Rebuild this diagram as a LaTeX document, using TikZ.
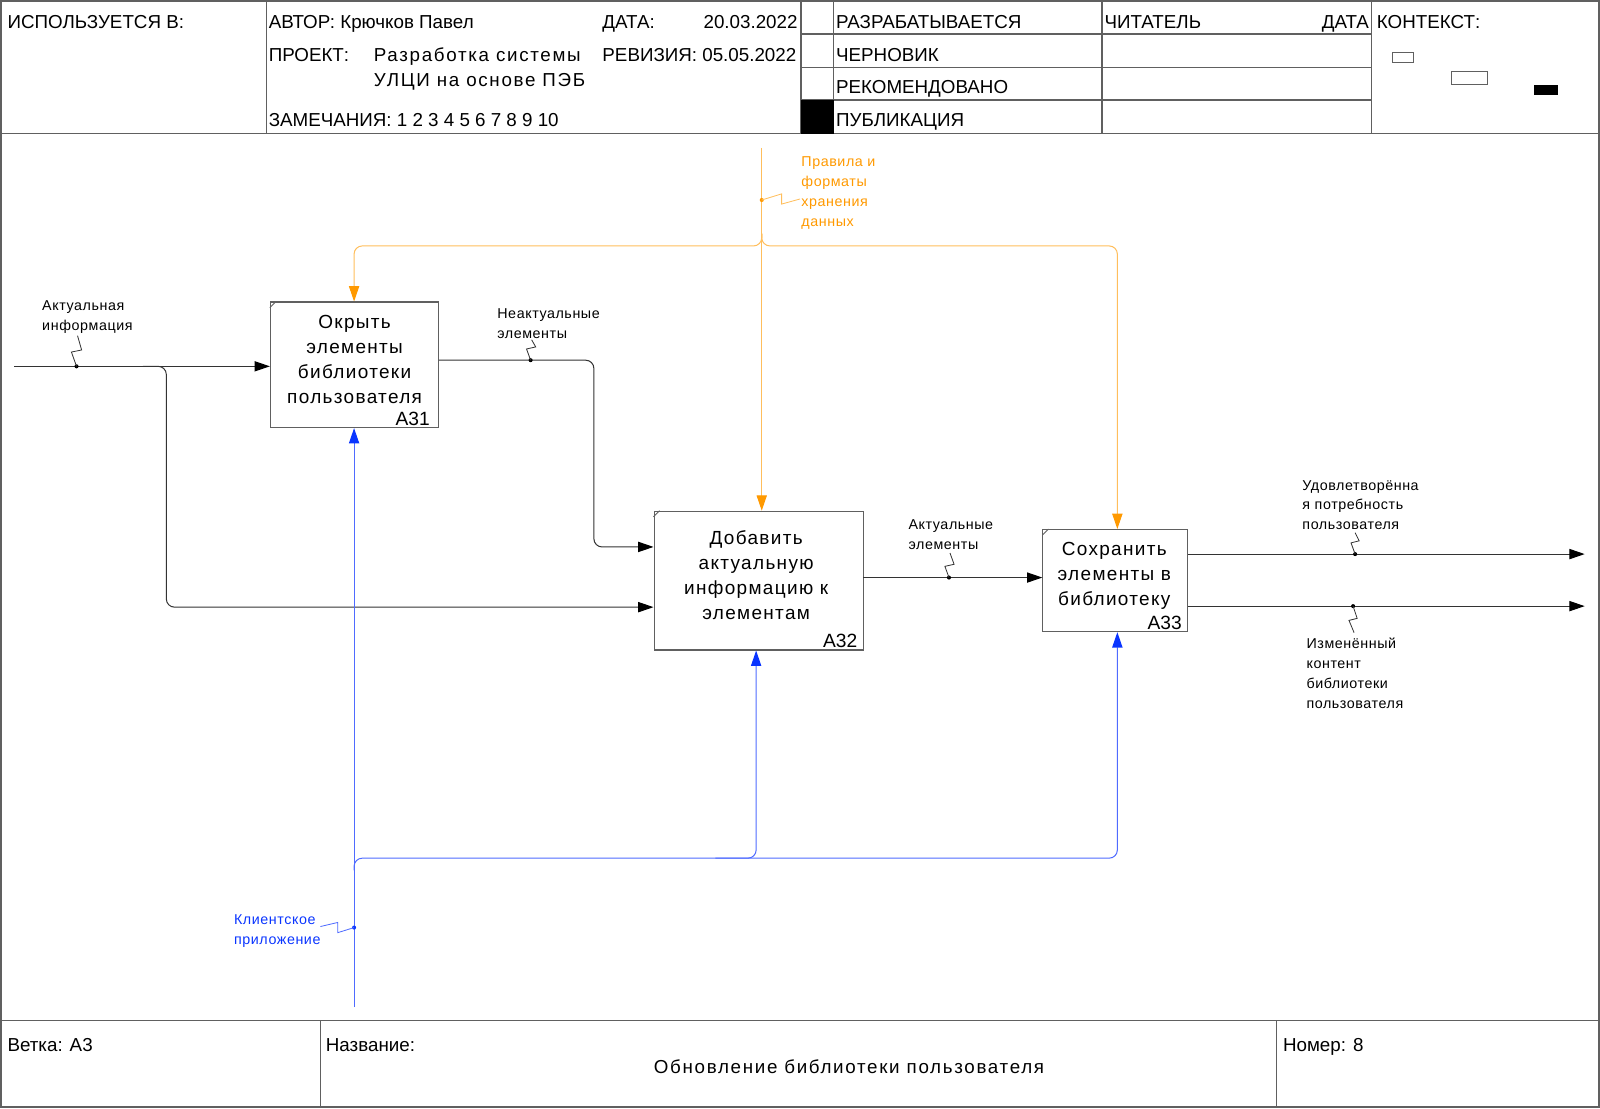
\documentclass[tikz,border=0pt]{standalone}
\usepackage{fontspec}
\setmainfont{Liberation Sans}
\newfontfamily\lblfont[LetterSpace=4]{Liberation Sans}
\newfontfamily\bxfont[LetterSpace=7]{Liberation Sans}
\newfontfamily\widefont[LetterSpace=9]{Liberation Sans}
\usetikzlibrary{arrows.meta}
\definecolor{frm}{HTML}{606060}
\definecolor{oraL}{HTML}{FFBE5C}
\definecolor{oraD}{HTML}{FF9900}
\definecolor{bluL}{HTML}{4F6BFF}
\definecolor{bluD}{HTML}{0A35FF}
\definecolor{conc}{HTML}{333333}
\tikzset{
  frame/.style={draw=frm, line width=0.7pt},
  hdr/.style={inner sep=0pt, anchor=base west, font=\fontsize{9.2}{11}\selectfont},
  box/.style={draw=frm, line width=0.55pt, fill=white, inner sep=0pt},
  boxtext/.style={inner sep=0pt, align=center, font=\bxfont\fontsize{9.3}{12.2}\selectfont},
  boxnum/.style={inner sep=0pt, anchor=south east, font=\fontsize{9.4}{11}\selectfont},
  lbl/.style={inner sep=0pt, anchor=west, align=left, font=\lblfont\fontsize{7}{9.75}\selectfont},
  conn/.style={draw=conc, line width=0.5pt, rounded corners=4pt},
  tipk/.style={-{Triangle[length=7.5pt,width=5pt,color=black]}},
  ctl/.style={draw=oraL, line width=0.5pt, rounded corners=4pt},
  tipo/.style={-{Triangle[length=7.5pt,width=5pt,color=oraD]}},
  mec/.style={draw=bluL, line width=0.5pt, rounded corners=4pt},
  tipm/.style={-{Triangle[length=7.5pt,width=5pt,color=bluD]}},
  squig/.style={line width=0.4pt},
}
\begin{document}
\begin{tikzpicture}[x=0.5pt,y=-0.5pt]
\useasboundingbox (0,0) rectangle (1568,1086);
% outer frame and header/footer grid
\draw[frame] (1,1) rectangle (1567,1085);
\draw[frame] (1,131) -- (1567,131);
\draw[frame] (1,1000) -- (1567,1000);
\draw[frame] (261,1) -- (261,131);
\draw[frame] (785,1) -- (785,131);
\draw[frame] (817,1) -- (817,131);
\draw[frame] (1080,1) -- (1080,131);
\draw[frame] (1344,1) -- (1344,131);
\draw[frame] (785,33.5) -- (1344,33.5);
\draw[frame] (785,66) -- (1344,66);
\draw[frame] (785,98) -- (1344,98);
\fill[black] (785,98) rectangle (817,131);
\draw[frame] (314,1000) -- (314,1085);
\draw[frame] (1251,1000) -- (1251,1085);
% context thumbnails
\draw[draw=frm, line width=0.4pt] (1365,51) rectangle (1385,61);
\draw[draw=frm, line width=0.4pt] (1422,70) rectangle (1458,83);
\fill[black] (1503,83) rectangle (1527,93);

% header texts
\node[hdr] (h1) at (7,27.5) {ИСПОЛЬЗУЕТСЯ В:};
\node[hdr] (h2) at (263,27.5) {АВТОР: Крючков Павел};
\node[hdr] (h3) at (590,27.5) {ДАТА:};
\node[hdr, anchor=base east] (h4) at (782,27.5) {20.03.2022};
\node[hdr] (h5) at (263,60) {ПРОЕКТ:};
\node[hdr, font=\widefont\fontsize{9.2}{11}\selectfont] (h6) at (366,60) {Разработка системы};
\node[hdr, font=\widefont\fontsize{9.2}{11}\selectfont] (h7) at (366,85) {УЛЦИ на основе ПЭБ};
\node[hdr] (h8) at (590,60) {РЕВИЗИЯ: 05.05.2022};
\node[hdr] (h9) at (263,124) {ЗАМЕЧАНИЯ: 1 2 3 4 5 6 7 8 9 10};
\node[hdr] (h10) at (819,27.5) {РАЗРАБАТЫВАЕТСЯ};
\node[hdr] (h11) at (819,60) {ЧЕРНОВИК};
\node[hdr] (h12) at (819,92) {РЕКОМЕНДОВАНО};
\node[hdr] (h13) at (819,124) {ПУБЛИКАЦИЯ};
\node[hdr] (h14) at (1082,27.5) {ЧИТАТЕЛЬ};
\node[hdr, anchor=base east] (h15) at (1342,27.5) {ДАТА};
\node[hdr] (h16) at (1349,27.5) {КОНТЕКСТ:};

% footer texts
\node[hdr] (f1) at (7,1030) {Ветка: А3};
\node[hdr] (f2) at (319,1030) {Название:};
\node[hdr, anchor=base, font=\widefont\fontsize{9.2}{11}\selectfont] (f3) at (832,1052) {Обновление библиотеки пользователя};
\node[hdr] (f4) at (1257,1030) {Номер: 8};

% activity boxes
\node[box, minimum width=82.5pt, minimum height=61.5pt] (a31) at (347.5,357.5) {};
\node[box, minimum width=102.5pt, minimum height=68pt] (a32) at (743.5,569) {};
\node[box, minimum width=71pt, minimum height=50pt] (a33) at (1093,569) {};
\foreach \b in {a31,a32,a33}{
  \draw[draw=frm, line width=0.4pt] ([yshift=-3pt]\b.north west) -- ([xshift=3pt]\b.north west);
}
\node[boxtext] (t31) at (347.5,352) {Окрыть\\элементы\\библиотеки\\пользователя};
\node[boxnum] (n31) at ([xshift=-4.5pt,yshift=1pt]a31.south east) {A31};
\node[boxtext] (t32) at (741,563.5) {Добавить\\актуальную\\информацию к\\элементам};
\node[boxnum] (n32) at ([xshift=-3pt,yshift=1pt]a32.south east) {A32};
\node[boxtext] (t33) at (1092,564) {Сохранить\\элементы в\\библиотеку};
\node[boxnum] (n33) at ([xshift=-3pt,yshift=1pt]a33.south east) {A33};

% input arrows
\coordinate (in1) at (14,359);
\coordinate (br1) at (140,359);
\coordinate (br1c) at (163,359);
\coordinate (br1d) at (163,595);
\draw[conn, tipk] (in1) -- (in1 -| a31.west);
\draw[conn, tipk] (br1) -- (br1c) -- (br1d) -- (br1d -| a32.west);
\coordinate (o31) at (430,353);
\coordinate (o31c) at (582,353);
\coordinate (o31d) at (582,536);
\draw[conn, tipk] (o31) -- (o31c) -- (o31d) -- (o31d -| a32.west);
\coordinate (o32) at (846,566);
\draw[conn, tipk] (o32) -- (o32 -| a33.west);
\coordinate (o33a) at (1553,543);
\coordinate (o33b) at (1553,594);
\draw[conn, tipk] (o33a -| a33.east) -- (o33a);
\draw[conn, tipk] (o33b -| a33.east) -- (o33b);

% controls (orange)
\coordinate (ctop) at (746.5,145);
\coordinate (cj) at (746.5,241);
\coordinate (cl) at (347,241);
\coordinate (cr) at (1095,241);
\draw[ctl, tipo] (ctop) -- (ctop |- a32.north);
\draw[ctl, tipo] ([yshift=6pt]cj) -- (cj) -- (cl) -- (cl |- a31.north);
\draw[ctl, tipo] ([yshift=6pt]cj) -- (cj) -- (cr) -- (cr |- a33.north);

% mechanisms (blue)
\coordinate (mbot) at (347,987);
\coordinate (mj) at (347,841);
\coordinate (m2) at (741,841);
\coordinate (m3) at (1095,841);
\draw[mec, tipm] (mbot) -- (mbot |- a31.south);
\draw[mec, tipm] ([yshift=-6pt]mj) -- (mj) -- (m3) -- (m3 |- a33.south);
\draw[mec, tipm] ([xshift=-20pt]m2) -- (m2) -- (m2 |- a32.south);

% arrow labels with squiggles
\node[lbl] (l1) at (41,311) {Актуальная\\информация};
\fill[black] (75,359) circle (1pt) coordinate (d1);
\draw[squig, conc] (d1) -- (70,345) -- (80,343) -- (76,329);

\node[lbl] (l2) at (487,317) {Неактуальные\\элементы};
\fill[black] (520,353) circle (1pt) coordinate (d2);
\draw[squig, conc] (d2) -- (516,342) -- (525,340) -- (521,333);

\node[lbl] (l3) at (890,524) {Актуальные\\элементы};
\fill[black] (930,566) circle (1pt) coordinate (d3);
\draw[squig, conc] (d3) -- (926,555) -- (935,553) -- (931,542);

\node[lbl] (l4) at (1276,495) {Удовлетворённа\\я потребность\\пользователя};
\fill[black] (1328,543) circle (1pt) coordinate (d4);
\draw[squig, conc] (d4) -- (1324,532) -- (1332,530) -- (1328,522);

\node[lbl] (l5) at (1280,660) {Изменённый\\контент\\библиотеки\\пользователя};
\fill[black] (1326,594) circle (1pt) coordinate (d5);
\draw[squig, conc] (d5) -- (1330,606) -- (1322,608) -- (1327,620);

\node[lbl, text=oraD] (l6) at (785,189) {Правила и\\форматы\\хранения\\данных};
\fill[oraD] (746.5,196) circle (1pt) coordinate (d6);
\draw[squig, oraL] (d6) -- (766,190) -- (766,200) -- (784,195);

\node[lbl, text=bluD] (l7) at (229,912.5) {Клиентское\\приложение};
\fill[bluD] (347,909) circle (1pt) coordinate (d7);
\draw[squig, bluL] (d7) -- (331,914) -- (331,904) -- (314,908);
\end{tikzpicture}
\end{document}
